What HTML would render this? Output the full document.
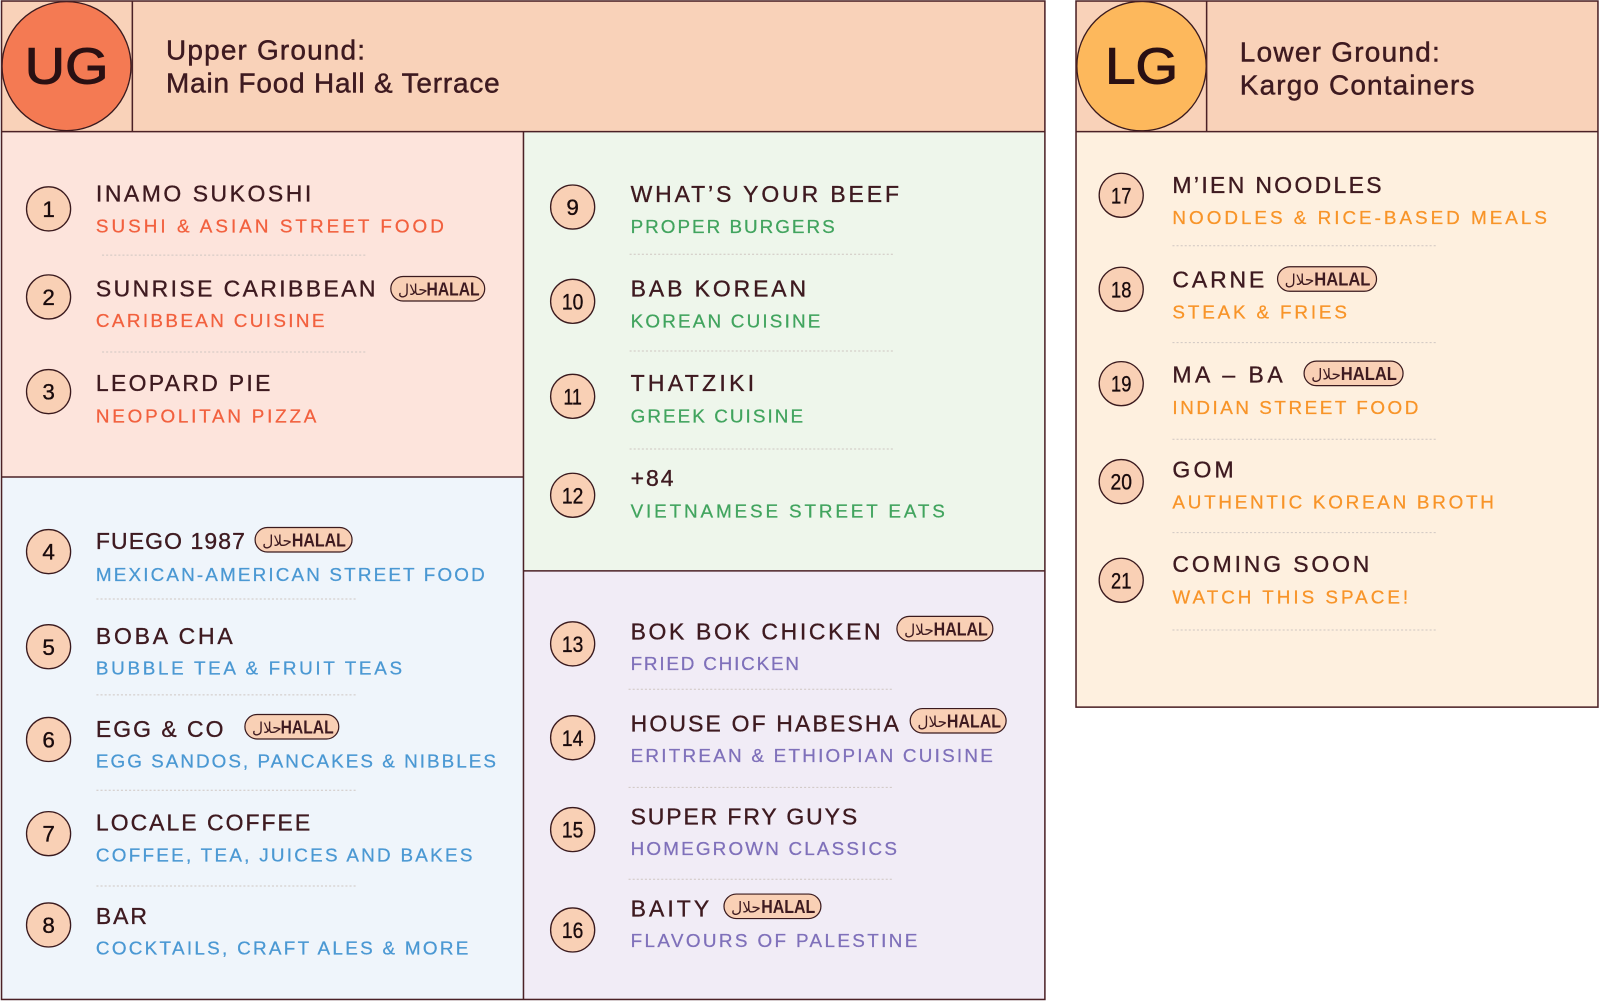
<!DOCTYPE html>
<html><head><meta charset="utf-8">
<style>
html,body{margin:0;padding:0;background:#fff;}
svg{display:block;}
.t{font-family:"Liberation Sans",sans-serif;font-size:22.5px;fill:#3E1A20;stroke:#3E1A20;stroke-width:0.35;}
.s{font-family:"Liberation Sans",sans-serif;font-size:18.5px;stroke-width:0.25;}
.n{font-family:"Liberation Sans",sans-serif;font-size:22px;fill:#1a0b0d;stroke:#1a0b0d;stroke-width:0.35;text-anchor:middle;}
.h{font-family:"Liberation Sans",sans-serif;font-size:27.4px;fill:#3E1A20;stroke:#3E1A20;stroke-width:0.45;}
.big{font-family:"Liberation Sans",sans-serif;font-size:50px;fill:#2a1013;stroke:#2a1013;stroke-width:1;}
.hal{font-family:"Liberation Sans",sans-serif;font-size:18px;font-weight:bold;fill:#3E1A20;}
.ar{font-family:"DejaVu Sans",sans-serif;font-size:15px;fill:#3E1A20;}
.pk{fill:#F2603E;stroke:#F2603E;}
.bl{fill:#4A98D3;stroke:#4A98D3;}
.gr{fill:#41A45E;stroke:#41A45E;}
.lv{fill:#7F70BA;stroke:#7F70BA;}
.or{fill:#F89428;stroke:#F89428;}
.sep{stroke:#cfc6c2;stroke-width:1;stroke-dasharray:2 2;}
.c{fill:#F9D0B5;stroke:#3a1a1e;stroke-width:1.3;}
.b{fill:#F9D0B5;stroke:#3a1a1e;stroke-width:1.2;}
.ln{stroke:#4B2126;stroke-width:1.5;fill:none;}
</style></head>
<body>
<svg width="1600" height="1001" viewBox="0 0 1568 981" preserveAspectRatio="none" xmlns="http://www.w3.org/2000/svg">
<!-- UG backgrounds -->
<rect x="1" y="1" width="1023" height="128" fill="#F9D2B9"/>
<rect x="1" y="129" width="512" height="338.5" fill="#FDE4DC"/>
<rect x="1" y="467.5" width="512" height="512" fill="#EFF5FB"/>
<rect x="513" y="129" width="511" height="430.5" fill="#EEF6EB"/>
<rect x="513" y="559.5" width="511" height="420" fill="#F1ECF6"/>
<!-- LG backgrounds -->
<rect x="1054.5" y="1" width="511.5" height="128" fill="#F9D2B9"/>
<rect x="1054.5" y="129" width="511.5" height="564" fill="#FEF0DF"/>

<!-- circles -->
<circle cx="65.2" cy="64.8" r="63.2" fill="#F47A53" stroke="#3a1a1e" stroke-width="1.3"/>
<circle cx="1118.7" cy="64.8" r="63.4" fill="#FDB85C" stroke="#3a1a1e" stroke-width="1.3"/>

<!-- UG borders -->
<rect x="1.5" y="1" width="1022.5" height="978.5" class="ln"/>
<line x1="1" y1="129" x2="1024" y2="129" class="ln"/>
<line x1="129.7" y1="1" x2="129.7" y2="129" class="ln"/>
<line x1="513" y1="129" x2="513" y2="979.5" class="ln"/>
<line x1="1" y1="467.5" x2="513" y2="467.5" class="ln"/>
<line x1="513" y1="559.5" x2="1024" y2="559.5" class="ln"/>
<!-- LG borders -->
<rect x="1054.5" y="1" width="511.5" height="692" class="ln"/>
<line x1="1054.5" y1="129" x2="1566" y2="129" class="ln"/>
<line x1="1182.5" y1="1" x2="1182.5" y2="129" class="ln"/>

<!-- header text -->
<text class="big" x="24.3" y="81.7" textLength="82" lengthAdjust="spacingAndGlyphs">UG</text>
<text class="big" x="1083" y="81.7" textLength="71.5" lengthAdjust="spacingAndGlyphs">LG</text>
<text class="h" x="162.7" y="58.1" textLength="195" lengthAdjust="spacing">Upper Ground:</text>
<text class="h" x="162.7" y="90.8" textLength="327" lengthAdjust="spacing">Main Food Hall &amp; Terrace</text>
<text class="h" x="1215" y="60.4" textLength="196" lengthAdjust="spacing">Lower Ground:</text>
<text class="h" x="1215" y="92.4" textLength="230" lengthAdjust="spacing">Kargo Containers</text>

<!-- separators -->
<line class="sep" x1="100" y1="250" x2="360" y2="250"/>
<line class="sep" x1="100" y1="345" x2="360" y2="345"/>
<line class="sep" x1="94.5" y1="587" x2="350" y2="587"/>
<line class="sep" x1="94.5" y1="681" x2="350" y2="681"/>
<line class="sep" x1="94.5" y1="774.5" x2="350" y2="774.5"/>
<line class="sep" x1="94.5" y1="868.3" x2="350" y2="868.3"/>
<line class="sep" x1="617" y1="249.2" x2="876" y2="249.2"/>
<line class="sep" x1="617" y1="344" x2="876" y2="344"/>
<line class="sep" x1="617" y1="440" x2="876" y2="440"/>
<line class="sep" x1="616" y1="675.5" x2="876" y2="675.5"/>
<line class="sep" x1="616" y1="771.6" x2="876" y2="771.6"/>
<line class="sep" x1="616" y1="861.7" x2="876" y2="861.7"/>
<line class="sep" x1="1149" y1="240.8" x2="1407" y2="240.8"/>
<line class="sep" x1="1149" y1="335.8" x2="1407" y2="335.8"/>
<line class="sep" x1="1149" y1="430.5" x2="1407" y2="430.5"/>
<line class="sep" x1="1149" y1="522" x2="1407" y2="522"/>
<line class="sep" x1="1149" y1="617.4" x2="1407" y2="617.4"/>

<!-- number circles -->
<g>
<circle class="c" cx="47.6" cy="204.7" r="21.6"/><text class="n" x="47.6" y="212.6">1</text>
<circle class="c" cx="47.6" cy="291" r="21.6"/><text class="n" x="47.6" y="298.9">2</text>
<circle class="c" cx="47.6" cy="383.8" r="21.6"/><text class="n" x="47.6" y="391.7">3</text>
<circle class="c" cx="47.6" cy="540.6" r="21.6"/><text class="n" x="47.6" y="548.5">4</text>
<circle class="c" cx="47.6" cy="633.8" r="21.6"/><text class="n" x="47.6" y="641.7">5</text>
<circle class="c" cx="47.6" cy="724.7" r="21.6"/><text class="n" x="47.6" y="732.6">6</text>
<circle class="c" cx="47.6" cy="817" r="21.6"/><text class="n" x="47.6" y="824.9">7</text>
<circle class="c" cx="47.6" cy="906.5" r="21.6"/><text class="n" x="47.6" y="914.4">8</text>

<circle class="c" cx="561.2" cy="202.9" r="21.6"/><text class="n" x="561.2" y="210.8">9</text>
<circle class="c" cx="561.2" cy="295.3" r="21.6"/><text class="n" x="561.2" y="303.2" textLength="21" lengthAdjust="spacingAndGlyphs">10</text>
<circle class="c" cx="561.2" cy="388.4" r="21.6"/><text class="n" x="561.2" y="396.3" textLength="18" lengthAdjust="spacingAndGlyphs">11</text>
<circle class="c" cx="561.2" cy="485.4" r="21.6"/><text class="n" x="561.2" y="493.3" textLength="21" lengthAdjust="spacingAndGlyphs">12</text>
<circle class="c" cx="561.2" cy="631" r="21.6"/><text class="n" x="561.2" y="638.9" textLength="21" lengthAdjust="spacingAndGlyphs">13</text>
<circle class="c" cx="561.2" cy="723" r="21.6"/><text class="n" x="561.2" y="730.9" textLength="21" lengthAdjust="spacingAndGlyphs">14</text>
<circle class="c" cx="561.2" cy="813" r="21.6"/><text class="n" x="561.2" y="820.9" textLength="21" lengthAdjust="spacingAndGlyphs">15</text>
<circle class="c" cx="561.2" cy="911.4" r="21.6"/><text class="n" x="561.2" y="919.3" textLength="21" lengthAdjust="spacingAndGlyphs">16</text>

<circle class="c" cx="1098.8" cy="191.4" r="21.6"/><text class="n" x="1098.8" y="199.3" textLength="20" lengthAdjust="spacingAndGlyphs">17</text>
<circle class="c" cx="1098.8" cy="283.5" r="21.6"/><text class="n" x="1098.8" y="291.4" textLength="20" lengthAdjust="spacingAndGlyphs">18</text>
<circle class="c" cx="1098.8" cy="376" r="21.6"/><text class="n" x="1098.8" y="383.9" textLength="20" lengthAdjust="spacingAndGlyphs">19</text>
<circle class="c" cx="1098.8" cy="472" r="21.6"/><text class="n" x="1098.8" y="479.9" textLength="21" lengthAdjust="spacingAndGlyphs">20</text>
<circle class="c" cx="1098.8" cy="568.7" r="21.6"/><text class="n" x="1098.8" y="576.6" textLength="20" lengthAdjust="spacingAndGlyphs">21</text>
</g>

<!-- titles -->
<text class="t" x="94" y="197.6" textLength="211" lengthAdjust="spacing">INAMO SUKOSHI</text>
<text class="t" x="94" y="290.4" textLength="274" lengthAdjust="spacing">SUNRISE CARIBBEAN</text>
<text class="t" x="94" y="383.3" textLength="171" lengthAdjust="spacing">LEOPARD PIE</text>
<text class="t" x="94" y="537.8" textLength="146" lengthAdjust="spacing">FUEGO 1987</text>
<text class="t" x="94" y="630.9" textLength="134" lengthAdjust="spacing">BOBA CHA</text>
<text class="t" x="94" y="722.2" textLength="125" lengthAdjust="spacing">EGG &amp; CO</text>
<text class="t" x="94" y="814" textLength="210" lengthAdjust="spacing">LOCALE COFFEE</text>
<text class="t" x="94" y="905.3" textLength="50" lengthAdjust="spacing">BAR</text>

<text class="t" x="618" y="198.1" textLength="263" lengthAdjust="spacing">WHAT’S YOUR BEEF</text>
<text class="t" x="618" y="290.7" textLength="172" lengthAdjust="spacing">BAB KOREAN</text>
<text class="t" x="618" y="383.3" textLength="121" lengthAdjust="spacing">THATZIKI</text>
<text class="t" x="618" y="476.5" textLength="42" lengthAdjust="spacing">+84</text>
<text class="t" x="618" y="626.7" textLength="245" lengthAdjust="spacing">BOK BOK CHICKEN</text>
<text class="t" x="618" y="717.1" textLength="263" lengthAdjust="spacing">HOUSE OF HABESHA</text>
<text class="t" x="618" y="808.1" textLength="222" lengthAdjust="spacing">SUPER FRY GUYS</text>
<text class="t" x="618" y="898" textLength="77" lengthAdjust="spacing">BAITY</text>

<text class="t" x="1149" y="189.1" textLength="205" lengthAdjust="spacing">M’IEN NOODLES</text>
<text class="t" x="1149" y="281.7" textLength="90" lengthAdjust="spacing">CARNE</text>
<text class="t" x="1149" y="375.1" textLength="108" lengthAdjust="spacing">MA – BA</text>
<text class="t" x="1149" y="467.9" textLength="60" lengthAdjust="spacing">GOM</text>
<text class="t" x="1149" y="560.7" textLength="193" lengthAdjust="spacing">COMING SOON</text>

<!-- subtitles -->
<text class="s pk" x="94" y="228" textLength="341" lengthAdjust="spacing">SUSHI &amp; ASIAN STREET FOOD</text>
<text class="s pk" x="94" y="320.4" textLength="224" lengthAdjust="spacing">CARIBBEAN CUISINE</text>
<text class="s pk" x="94" y="414.2" textLength="216" lengthAdjust="spacing">NEOPOLITAN PIZZA</text>

<text class="s bl" x="94" y="569.2" textLength="381" lengthAdjust="spacing">MEXICAN-AMERICAN STREET FOOD</text>
<text class="s bl" x="94" y="660.9" textLength="300" lengthAdjust="spacing">BUBBLE TEA &amp; FRUIT TEAS</text>
<text class="s bl" x="94" y="752.3" textLength="392" lengthAdjust="spacing">EGG SANDOS, PANCAKES &amp; NIBBLES</text>
<text class="s bl" x="94" y="844.1" textLength="369" lengthAdjust="spacing">COFFEE, TEA, JUICES AND BAKES</text>
<text class="s bl" x="94" y="935.6" textLength="365" lengthAdjust="spacing">COCKTAILS, CRAFT ALES &amp; MORE</text>

<text class="s gr" x="618" y="228.5" textLength="200" lengthAdjust="spacing">PROPER BURGERS</text>
<text class="s gr" x="618" y="320.8" textLength="186" lengthAdjust="spacing">KOREAN CUISINE</text>
<text class="s gr" x="618" y="414.2" textLength="169" lengthAdjust="spacing">GREEK CUISINE</text>
<text class="s gr" x="618" y="507" textLength="308" lengthAdjust="spacing">VIETNAMESE STREET EATS</text>

<text class="s lv" x="618" y="656.4" textLength="165" lengthAdjust="spacing">FRIED CHICKEN</text>
<text class="s lv" x="618" y="746.9" textLength="355" lengthAdjust="spacing">ERITREAN &amp; ETHIOPIAN CUISINE</text>
<text class="s lv" x="618" y="837.7" textLength="261" lengthAdjust="spacing">HOMEGROWN CLASSICS</text>
<text class="s lv" x="618" y="928.2" textLength="281" lengthAdjust="spacing">FLAVOURS OF PALESTINE</text>

<text class="s or" x="1149" y="219.4" textLength="367" lengthAdjust="spacing">NOODLES &amp; RICE-BASED MEALS</text>
<text class="s or" x="1149" y="312.2" textLength="171" lengthAdjust="spacing">STEAK &amp; FRIES</text>
<text class="s or" x="1149" y="405.6" textLength="241" lengthAdjust="spacing">INDIAN STREET FOOD</text>
<text class="s or" x="1149" y="498.3" textLength="315" lengthAdjust="spacing">AUTHENTIC KOREAN BROTH</text>
<text class="s or" x="1149" y="591.5" textLength="231" lengthAdjust="spacing">WATCH THIS SPACE!</text>

<!-- HALAL badges -->
<g>
<rect class="b" x="383" y="271" width="92" height="24" rx="12"/>
<text class="ar" x="390" y="289">حلال</text>
<text class="hal" x="418" y="289.6" textLength="52" lengthAdjust="spacingAndGlyphs">HALAL</text>

<rect class="b" x="250" y="517" width="95" height="24" rx="12"/>
<text class="ar" x="257" y="535">حلال</text>
<text class="hal" x="286" y="535.6" textLength="53" lengthAdjust="spacingAndGlyphs">HALAL</text>

<rect class="b" x="240" y="700.2" width="92" height="24" rx="12"/>
<text class="ar" x="247" y="718.2">حلال</text>
<text class="hal" x="275" y="718.8" textLength="52" lengthAdjust="spacingAndGlyphs">HALAL</text>

<rect class="b" x="879" y="604.1" width="94" height="24" rx="12"/>
<text class="ar" x="886" y="622.1">حلال</text>
<text class="hal" x="915" y="622.7" textLength="53" lengthAdjust="spacingAndGlyphs">HALAL</text>

<rect class="b" x="892" y="694.4" width="94" height="24" rx="12"/>
<text class="ar" x="899" y="712.4">حلال</text>
<text class="hal" x="928" y="713" textLength="53" lengthAdjust="spacingAndGlyphs">HALAL</text>

<rect class="b" x="709.5" y="876.2" width="95" height="24" rx="12"/>
<text class="ar" x="716.5" y="894.2">حلال</text>
<text class="hal" x="746" y="894.8" textLength="53" lengthAdjust="spacingAndGlyphs">HALAL</text>

<rect class="b" x="1252" y="261.4" width="97" height="24" rx="12"/>
<text class="ar" x="1259" y="279.4">حلال</text>
<text class="hal" x="1288" y="280" textLength="55" lengthAdjust="spacingAndGlyphs">HALAL</text>

<rect class="b" x="1278" y="353.9" width="97" height="24" rx="12"/>
<text class="ar" x="1285" y="371.9">حلال</text>
<text class="hal" x="1314" y="372.5" textLength="55" lengthAdjust="spacingAndGlyphs">HALAL</text>
</g>
</svg>
</body></html>
